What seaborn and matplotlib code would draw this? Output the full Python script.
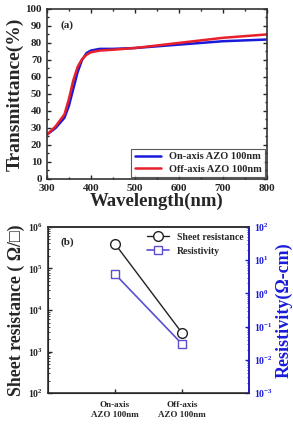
import numpy as np
import pandas as pd
import matplotlib
matplotlib.use("Agg")
import matplotlib.pyplot as plt
import matplotlib.ticker as mticker
import seaborn as sns

# (a) transmittance spectra
wavelength = [300, 320, 340, 350, 360, 370, 380, 390, 400, 420, 450, 500, 550, 600, 650, 700, 750, 800]
on_axis_T = [26, 30, 36, 43, 53, 63, 70, 74, 75.5, 76.5, 76.5, 77, 78, 79, 80, 81, 81.5, 82]
off_axis_T = [26, 31, 38, 47, 58, 66, 70.5, 73, 74.5, 75.5, 76, 77, 78.5, 80, 81.5, 83, 84, 85]

# (b) electrical properties
samples = ["On-axis\nAZO 100nm", "Off-axis\nAZO 100nm"]
sample_pos = [1, 2]
sheet_res = [3.9e5, 2.8e3]
resistivity = [3.8, 0.03]

sns.set_style("ticks")
plt.rcParams['font.family'] = ['Liberation Serif', 'DejaVu Serif']
plt.rcParams['font.weight'] = 'bold'
plt.rcParams['axes.labelweight'] = 'bold'
plt.rcParams['mathtext.fontset'] = 'custom'
plt.rcParams['mathtext.rm'] = 'Liberation Serif:bold'
plt.rcParams['mathtext.bf'] = 'Liberation Serif:bold'
plt.rcParams['mathtext.it'] = 'Liberation Serif:bold'
plt.rcParams['xtick.direction'] = 'in'
plt.rcParams['ytick.direction'] = 'in'

fig = plt.figure(figsize=(2.93, 4.25), dpi=100)

# ---- panel (a)
ax1 = fig.add_axes([0.160, 0.579, 0.751, 0.400])
df_t = pd.DataFrame({
    'wl': wavelength * 2,
    'T': on_axis_T + off_axis_T,
    'sample': ['On-axis AZO 100nm'] * len(wavelength) + ['Off-axis AZO 100nm'] * len(wavelength),
})
sns.lineplot(data=df_t, x='wl', y='T', hue='sample', palette=['#1a1adb', '#e8202a'],
             linewidth=1.8, ax=ax1)
ax1.set_xlim(300, 800)
ax1.set_ylim(0, 100)
ax1.xaxis.set_major_locator(mticker.MultipleLocator(100))
ax1.xaxis.set_minor_locator(mticker.MultipleLocator(50))
ax1.yaxis.set_major_locator(mticker.MultipleLocator(10))
ax1.yaxis.set_minor_locator(mticker.MultipleLocator(5))
ax1.tick_params(which='both', top=True, right=True, labelsize=8, length=3, width=1)
ax1.tick_params(which='minor', length=1.5)
ax1.set_xlabel('Wavelength(nm)', fontsize=13.5, labelpad=0)
ax1.set_ylabel('Transmittance(%)', fontsize=14, labelpad=1)
for s in ax1.spines.values():
    s.set_linewidth(1.2)
    s.set_color('#333333')
ax1.text(0.06, 0.93, '(a)', transform=ax1.transAxes, fontsize=8, va='top')
leg = ax1.legend(loc='lower right', fontsize=7.5, frameon=True, fancybox=False,
                 edgecolor='#333333', borderaxespad=0.2, handlelength=2.5,
                 borderpad=0.3, labelspacing=0.3)
leg.get_frame().set_linewidth(0.8)

# ---- panel (b)
ax2 = fig.add_axes([0.164, 0.075, 0.686, 0.391])
df_b = pd.DataFrame({'pos': sample_pos, 'sheet': sheet_res, 'rho': resistivity})
sns.lineplot(data=df_b, x='pos', y='sheet', color='#222222', marker='o', markersize=7,
             markerfacecolor='white', markeredgecolor='#222222', markeredgewidth=1,
             linewidth=1, ax=ax2, label='Sheet resistance', legend=False)
ax2.set_yscale('log')
ax2.set_ylim(1e2, 1e6)
ax2.set_xlim(0, 3)
ax2.set_xticks(sample_pos)
ax2.set_xticklabels(samples, fontsize=6.5)
ax2.set_xlabel('')
ax2.set_ylabel('Sheet resistance ( Ω/□)', fontsize=12.8, labelpad=2)
ax2.yaxis.set_major_locator(mticker.LogLocator(base=10, numticks=10))
ax2.yaxis.set_minor_locator(mticker.LogLocator(base=10, subs=np.arange(2, 10), numticks=10))
ax2.yaxis.set_minor_formatter(mticker.NullFormatter())
ax2.tick_params(axis='y', labelsize=7, length=3, width=1)
ax2.tick_params(axis='y', which='minor', length=1.5)
ax2.tick_params(axis='x', length=3, width=1, pad=6)
for s in ax2.spines.values():
    s.set_linewidth(1.2)
    s.set_color('#333333')
ax2.text(0.06, 0.94, '(b)', transform=ax2.transAxes, fontsize=8, va='top')

blue = '#5a4fd0'
ax3 = ax2.twinx()
sns.lineplot(data=df_b, x='pos', y='rho', color=blue, marker='s', markersize=6,
             markerfacecolor='white', markeredgecolor=blue, markeredgewidth=1,
             linewidth=1.2, ax=ax3, label='Resistivity', legend=False)
ax3.set_yscale('log')
ax3.set_ylim(1e-3, 1e2)
ax3.set_ylabel('Resistivity(Ω-cm)', fontsize=13, color='#1a1adb', labelpad=2)
ax3.yaxis.set_major_locator(mticker.LogLocator(base=10, numticks=10))
ax3.yaxis.set_minor_locator(mticker.LogLocator(base=10, subs=np.arange(2, 10), numticks=10))
ax3.yaxis.set_minor_formatter(mticker.NullFormatter())
ax3.tick_params(axis='y', labelsize=7, colors='#1a1adb', length=3, width=1)
ax3.tick_params(axis='y', which='minor', length=1.5)
ax3.spines['right'].set_color('#1a1adb')
ax3.spines['right'].set_linewidth(1.2)
ax3.spines['top'].set_linewidth(1.2)
ax3.spines['top'].set_color('#333333')

h1, l1 = ax2.get_legend_handles_labels()
h3, l3 = ax3.get_legend_handles_labels()
ax3.legend(h1 + h3, l1 + l3, loc='upper right', fontsize=7, frameon=False,
           handlelength=2.2, borderaxespad=0.2, labelspacing=0.5)

fig.savefig('out.png', dpi=100)
